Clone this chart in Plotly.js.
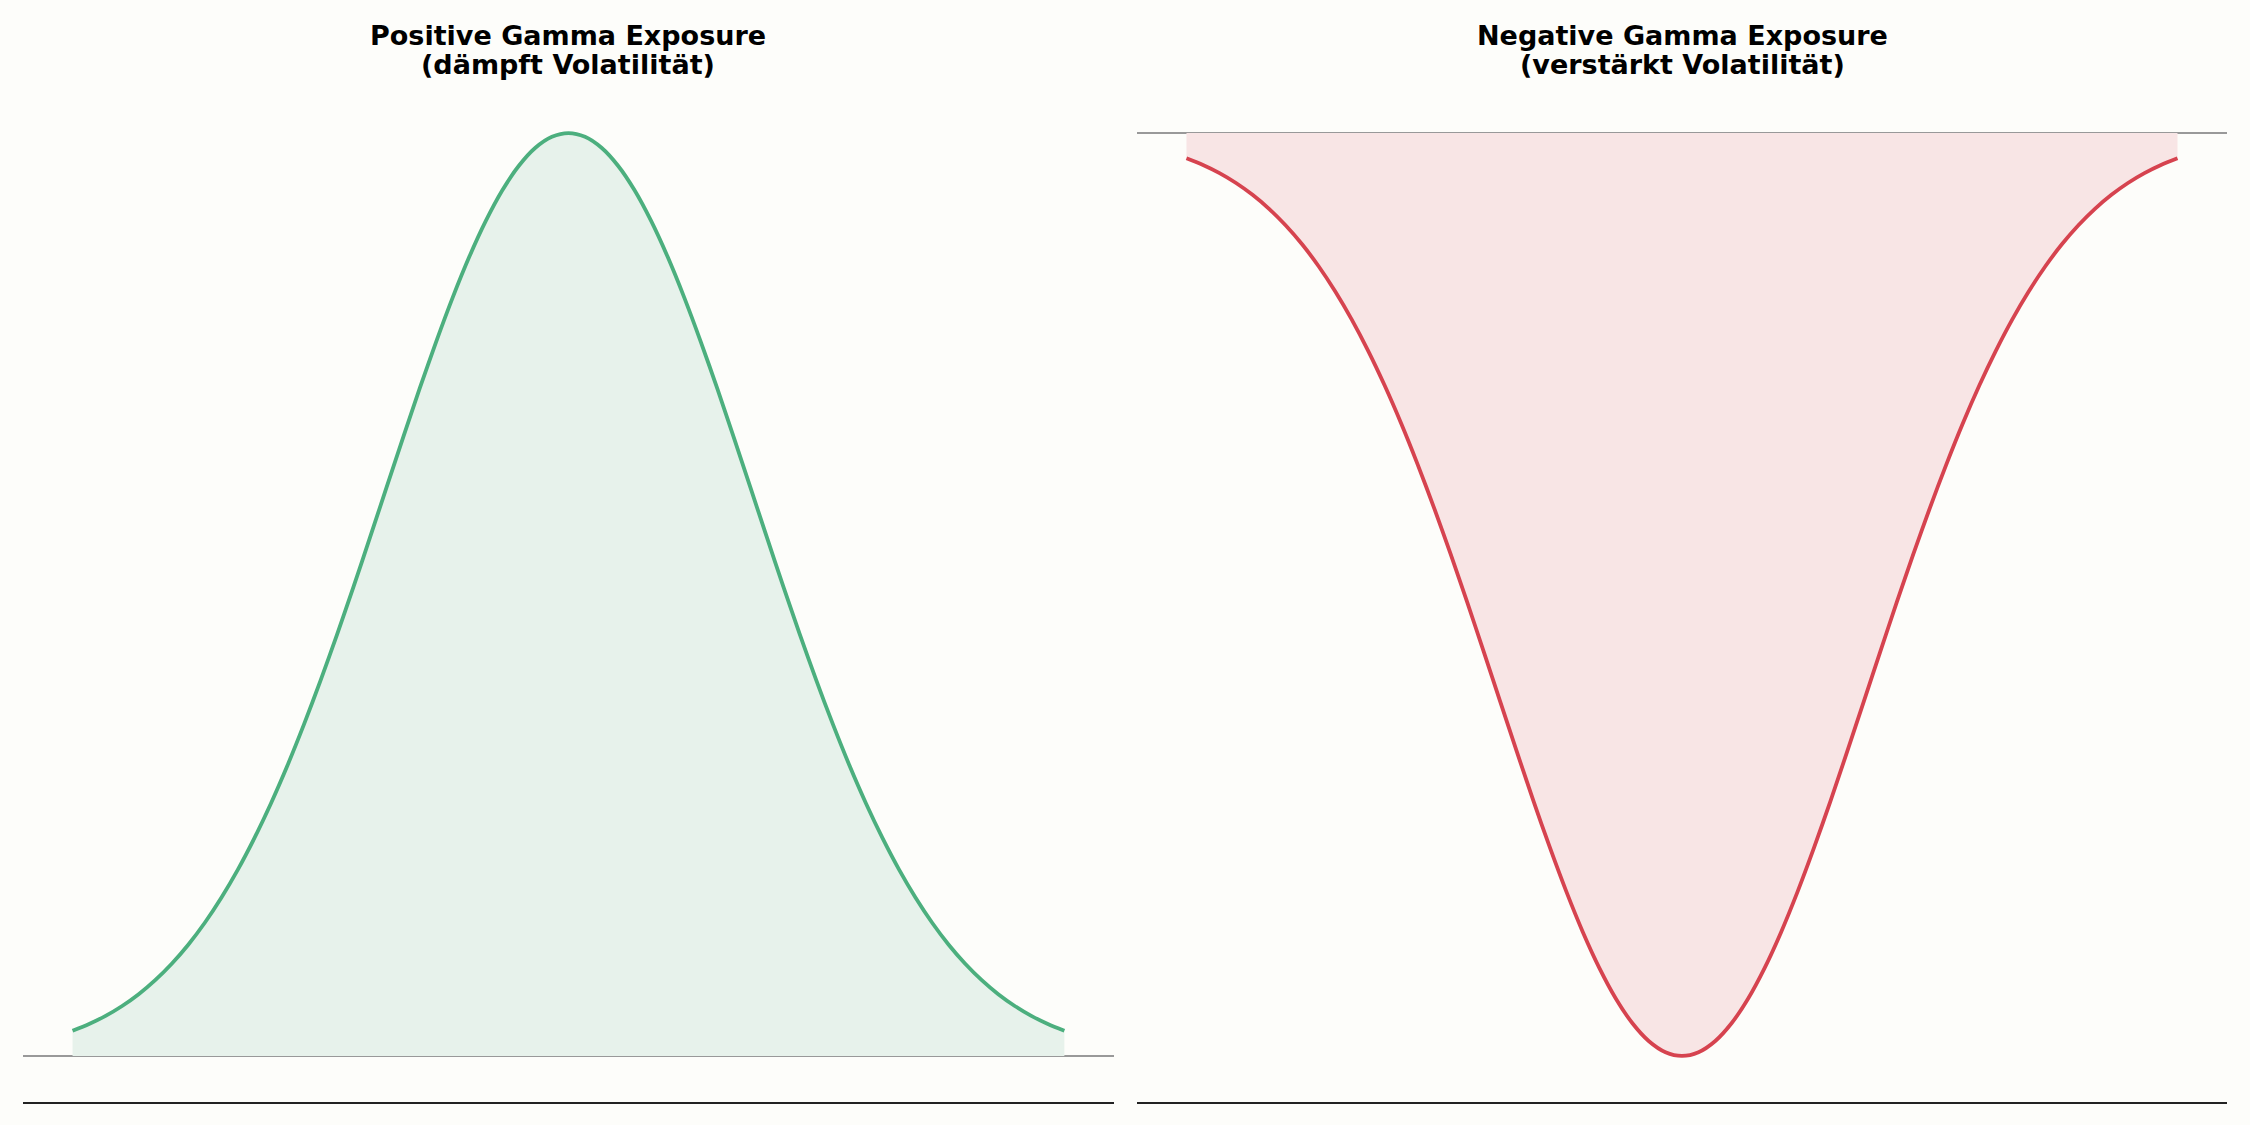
<!DOCTYPE html>
<html>
<head>
<meta charset="utf-8">
<script src="https://cdn.plot.ly/plotly-3.0.1.min.js"></script>
<style>
  html, body { margin: 0; padding: 0; background: #fdfdfa; }
  #chart { width: 2250px; height: 1125px; }
</style>
</head>
<body>
<div id="chart"></div>
<script>
var spotPrice = [
  -3.0, -2.9, -2.8, -2.7, -2.6, -2.5, -2.4, -2.3, -2.2, -2.1,
  -2.0, -1.9, -1.8, -1.7, -1.6, -1.5, -1.4, -1.3, -1.2, -1.1,
  -1.0, -0.9, -0.8, -0.7, -0.6, -0.5, -0.4, -0.3, -0.2, -0.1,
  0.0, 0.1, 0.2, 0.3, 0.4, 0.5, 0.6, 0.7, 0.8, 0.9,
  1.0, 1.1, 1.2, 1.3, 1.4, 1.5, 1.6, 1.7, 1.8, 1.9,
  2.0, 2.1, 2.2, 2.3, 2.4, 2.5, 2.6, 2.7, 2.8, 2.9, 3.0
];

var positiveGamma = [
  0.0273, 0.0346, 0.0434, 0.0541, 0.0669, 0.0821, 0.0999, 0.1205, 0.1443, 0.1714,
  0.2019, 0.2360, 0.2736, 0.3147, 0.3592, 0.4066, 0.4566, 0.5086, 0.5621, 0.6163,
  0.6703, 0.7233, 0.7741, 0.8220, 0.8659, 0.9048, 0.9380, 0.9646, 0.9841, 0.9960,
  1.0000, 0.9960, 0.9841, 0.9646, 0.9380, 0.9048, 0.8659, 0.8220, 0.7741, 0.7233,
  0.6703, 0.6163, 0.5621, 0.5086, 0.4566, 0.4066, 0.3592, 0.3147, 0.2736, 0.2360,
  0.2019, 0.1714, 0.1443, 0.1205, 0.0999, 0.0821, 0.0669, 0.0541, 0.0434, 0.0346, 0.0273
];

var negativeGamma = [
  -0.0273, -0.0346, -0.0434, -0.0541, -0.0669, -0.0821, -0.0999, -0.1205, -0.1443, -0.1714,
  -0.2019, -0.2360, -0.2736, -0.3147, -0.3592, -0.4066, -0.4566, -0.5086, -0.5621, -0.6163,
  -0.6703, -0.7233, -0.7741, -0.8220, -0.8659, -0.9048, -0.9380, -0.9646, -0.9841, -0.9960,
  -1.0000, -0.9960, -0.9841, -0.9646, -0.9380, -0.9048, -0.8659, -0.8220, -0.7741, -0.7233,
  -0.6703, -0.6163, -0.5621, -0.5086, -0.4566, -0.4066, -0.3592, -0.3147, -0.2736, -0.2360,
  -0.2019, -0.1714, -0.1443, -0.1205, -0.0999, -0.0821, -0.0669, -0.0541, -0.0434, -0.0346, -0.0273
];

var panelTitles = [
  ['Positive Gamma Exposure', '(dämpft Volatilität)'],
  ['Negative Gamma Exposure', '(verstärkt Volatilität)']
];

document.addEventListener('DOMContentLoaded', function() {
    var bg = '#fdfdfa';

    var data = [{
        x: spotPrice,
        y: positiveGamma,
        xaxis: 'x',
        yaxis: 'y',
        mode: 'lines',
        type: 'scatter',
        fill: 'tozeroy',
        fillcolor: '#e7f2eb',
        line: { color: '#4caf7e', width: 3.8, shape: 'spline', smoothing: 0.8 },
        hoverinfo: 'skip'
    }, {
        x: spotPrice,
        y: negativeGamma,
        xaxis: 'x2',
        yaxis: 'y2',
        mode: 'lines',
        type: 'scatter',
        fill: 'tozeroy',
        fillcolor: '#f8e5e5',
        line: { color: '#d6434f', width: 3.8, shape: 'spline', smoothing: 0.8 },
        hoverinfo: 'skip'
    }];

    function xAxis(domain, anchor) {
        return {
            domain: domain,
            anchor: anchor,
            range: [-3.3, 3.3],
            showgrid: false,
            zeroline: false,
            showticklabels: false,
            ticks: '',
            showline: true,
            linecolor: '#222222',
            linewidth: 2
        };
    }

    function yAxis(domain, anchor, range) {
        return {
            domain: domain,
            anchor: anchor,
            range: range,
            showgrid: false,
            showticklabels: false,
            ticks: '',
            showline: false,
            zeroline: true,
            zerolinecolor: '#999999',
            zerolinewidth: 2.2
        };
    }

    var yDomain = [0.0204, 0.9227];

    var annotations = [];
    var centers = [0.2525, 0.7476];
    var lineY = [0.9683, 0.9425];
    panelTitles.forEach(function(lines, i) {
        lines.forEach(function(text, j) {
            annotations.push({
                text: text,
                xref: 'paper',
                yref: 'paper',
                x: centers[i],
                y: lineY[j],
                xanchor: 'center',
                yanchor: 'middle',
                showarrow: false,
                font: { family: 'DejaVu Sans', size: 27, color: '#000000', weight: 'bold' }
            });
        });
    });

    var layout = {
        width: 2250,
        height: 1125,
        margin: { l: 0, r: 0, t: 0, b: 0 },
        paper_bgcolor: bg,
        plot_bgcolor: bg,
        showlegend: false,
        xaxis: xAxis([0.0102, 0.4951], 'y'),
        yaxis: yAxis(yDomain, 'x', [-0.05, 1.05]),
        xaxis2: xAxis([0.5053, 0.9898], 'y2'),
        yaxis2: yAxis(yDomain, 'x2', [-1.05, 0.05]),
        annotations: annotations
    };

    Plotly.newPlot('chart', data, layout, { displayModeBar: false, staticPlot: true });
});
</script>
</body>
</html>
